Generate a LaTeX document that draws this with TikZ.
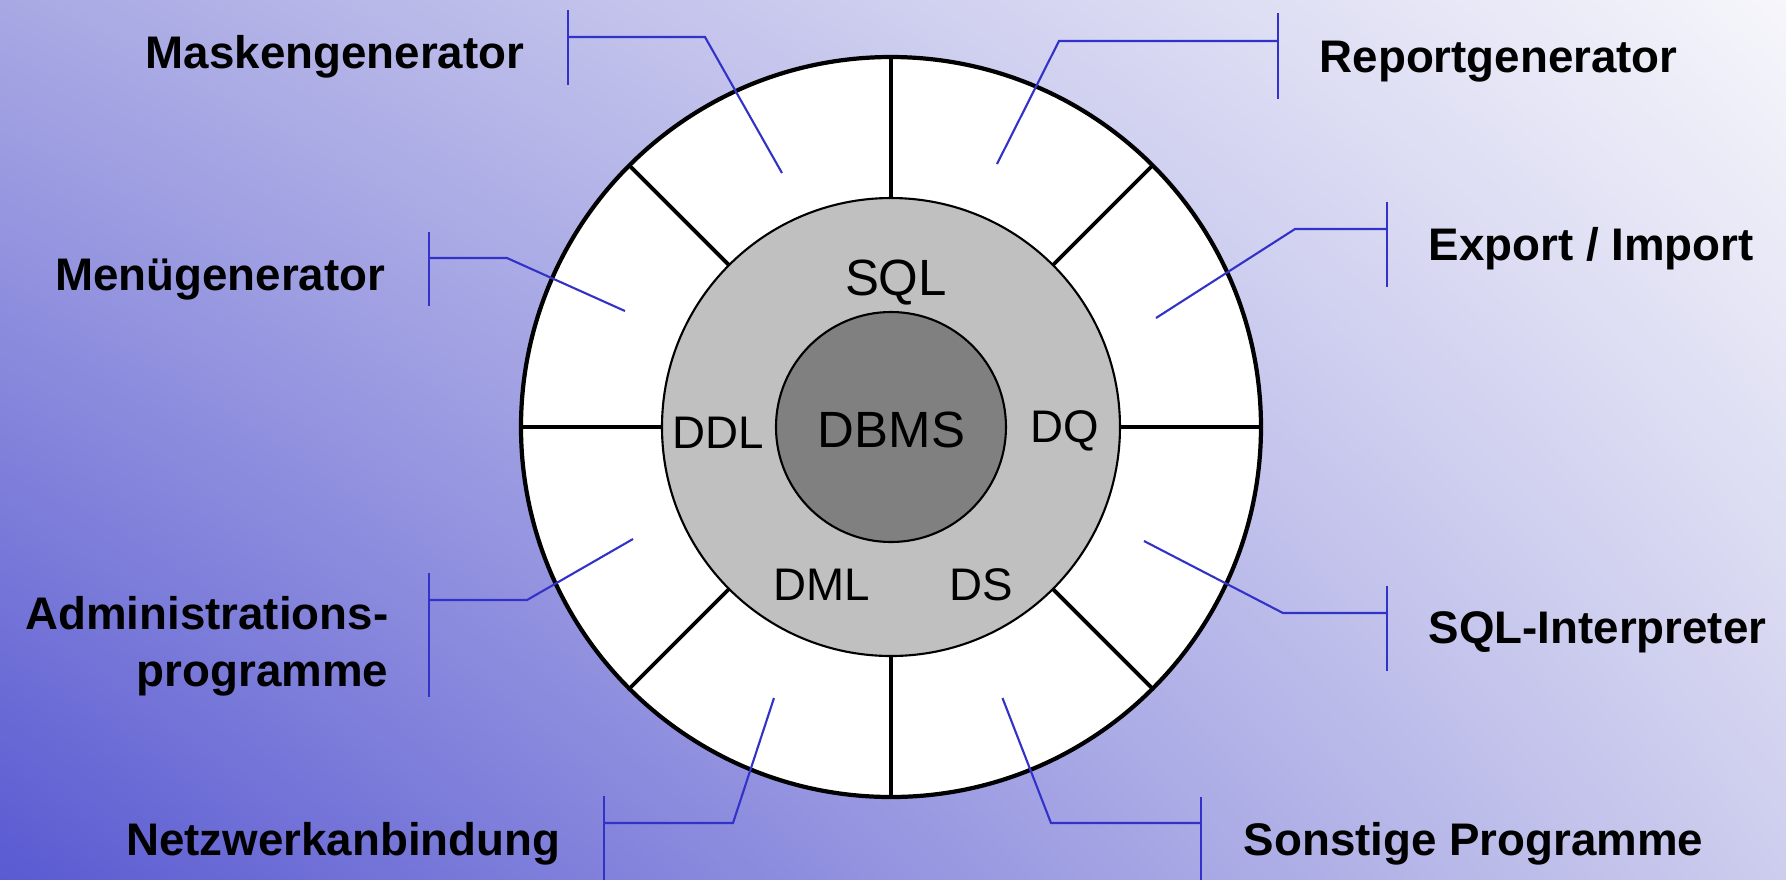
\documentclass[tikz,border=0pt]{standalone}
\usepackage{fontspec}
\setmainfont{Liberation Sans}
\usepackage{tikz}
\usetikzlibrary{calc}
\usetikzlibrary{shadings}

\definecolor{bgdark}{RGB}{90,90,210}
\definecolor{bgtl}{RGB}{168,168,228}
\definecolor{bgbr}{RGB}{205,205,238}
\definecolor{bglight}{RGB}{246,246,251}
\definecolor{leaderblue}{RGB}{50,50,200}
\definecolor{ringgray}{RGB}{192,192,192}
\definecolor{coregray}{RGB}{128,128,128}

\tikzset{
	leader/.style={leaderblue, line width=0.6pt},
	seg/.style={black, line width=1.1pt},
	label/.style={inner sep=0pt, font=\bfseries\fontsize{13}{16.2}\selectfont},
	inlabel/.style={inner sep=0pt, font=\fontsize{13}{15}\selectfont},
	biglabel/.style={inner sep=0pt, font=\fontsize{14.5}{17}\selectfont}
}

\begin{document}
\begin{tikzpicture}
	%\draw[style=help lines,gray!50] (-9,-4.5)grid[step=0.5cm] (9,4.5);
	\useasboundingbox (-8.91,-4.52) rectangle (8.95,4.27);
	\shade[lower left=bgdark, upper right=bglight, upper left=bgtl, lower right=bgbr] (-8.91,-4.52) rectangle (8.95,4.27);

	% rings
	\draw[fill=white, line width=1.2pt] (0,0) circle (3.70);
	\foreach \a in {0,45,...,315}
		\draw[seg] (\a:2.29) -- (\a:3.70);
	\draw[fill=ringgray, line width=0.6pt] (0,0) circle (2.29);
	\draw[fill=coregray, line width=0.6pt] (0,0) circle (1.15);

	\node[biglabel, anchor=base] (dbms) at (0.005,-0.20) {DBMS};
	\node[biglabel, anchor=base] (sql) at (0.05,1.32) {SQL};
	\node[inlabel, anchor=base] (ddl) at (-1.725,-0.21) {DDL};
	\node[inlabel, anchor=base] (dq) at (1.735,-0.15) {DQ};
	\node[inlabel, anchor=base] (dml) at (-0.695,-1.73) {DML};
	\node[inlabel, anchor=base] (ds) at (0.90,-1.73) {DS};

	% labels
	\node[label, anchor=base east] (mask) at (-3.66,3.59) {Maskengenerator};
	\node[label, anchor=base east] (menu) at (-5.05,1.37) {Menügenerator};
	\node[label, anchor=east, align=right] (admin) at (-5.02,-2.195) {Administrations-\\programme};
	\node[label, anchor=base east] (netz) at (-3.30,-4.28) {Netzwerkanbindung};
	\node[label, anchor=base west] (report) at (4.28,3.55) {Reportgenerator};
	\node[label, anchor=base west] (export) at (5.37,1.67) {Export / Import};
	\node[label, anchor=base west] (interp) at (5.37,-2.16) {SQL-Interpreter};
	\node[label, anchor=base west] (other) at (3.52,-4.28) {Sonstige Programme};

	% leaders
	\coordinate (bar_mask) at (-3.23,3.90);
	\coordinate (bend_mask) at (-1.86,3.90);
	\coordinate (tip_mask) at (-1.09,2.54);
	\coordinate (bar_menu) at (-4.62,1.69);
	\coordinate (bend_menu) at (-3.84,1.69);
	\coordinate (tip_menu) at (-2.66,1.16);
	\coordinate (bar_admin) at (-4.62,-1.73);
	\coordinate (bend_admin) at (-3.64,-1.73);
	\coordinate (tip_admin) at (-2.58,-1.12);
	\coordinate (bar_netz) at (-2.87,-3.96);
	\coordinate (bend_netz) at (-1.58,-3.96);
	\coordinate (tip_netz) at (-1.17,-2.71);
	\coordinate (bar_report) at (3.87,3.86);
	\coordinate (bend_report) at (1.68,3.86);
	\coordinate (tip_report) at (1.06,2.63);
	\coordinate (bar_export) at (4.96,1.98);
	\coordinate (bend_export) at (4.04,1.98);
	\coordinate (tip_export) at (2.65,1.09);
	\coordinate (bar_interp) at (4.96,-1.86);
	\coordinate (bend_interp) at (3.92,-1.86);
	\coordinate (tip_interp) at (2.53,-1.14);
	\coordinate (bar_other) at (3.10,-3.96);
	\coordinate (bend_other) at (1.60,-3.96);
	\coordinate (tip_other) at (1.115,-2.71);

	\draw[leader] (bar_mask) -- (bend_mask) -- (tip_mask);
	\draw[leader] ($(bar_mask)+(0,0.27)$) -- ($(bar_mask)+(0,-0.48)$);
	\draw[leader] (bar_menu) -- (bend_menu) -- (tip_menu);
	\draw[leader] ($(bar_menu)+(0,0.26)$) -- ($(bar_menu)+(0,-0.48)$);
	\draw[leader] (bar_admin) -- (bend_admin) -- (tip_admin);
	\draw[leader] ($(bar_admin)+(0,0.27)$) -- ($(bar_admin)+(0,-0.97)$);
	\draw[leader] (bar_netz) -- (bend_netz) -- (tip_netz);
	\draw[leader] ($(bar_netz)+(0,0.27)$) -- ($(bar_netz)+(0,-0.60)$);
	\draw[leader] (bar_report) -- (bend_report) -- (tip_report);
	\draw[leader] ($(bar_report)+(0,0.28)$) -- ($(bar_report)+(0,-0.58)$);
	\draw[leader] (bar_export) -- (bend_export) -- (tip_export);
	\draw[leader] ($(bar_export)+(0,0.27)$) -- ($(bar_export)+(0,-0.58)$);
	\draw[leader] (bar_interp) -- (bend_interp) -- (tip_interp);
	\draw[leader] ($(bar_interp)+(0,0.27)$) -- ($(bar_interp)+(0,-0.58)$);
	\draw[leader] (bar_other) -- (bend_other) -- (tip_other);
	\draw[leader] ($(bar_other)+(0,0.26)$) -- ($(bar_other)+(0,-0.60)$);
\end{tikzpicture}
\end{document}
